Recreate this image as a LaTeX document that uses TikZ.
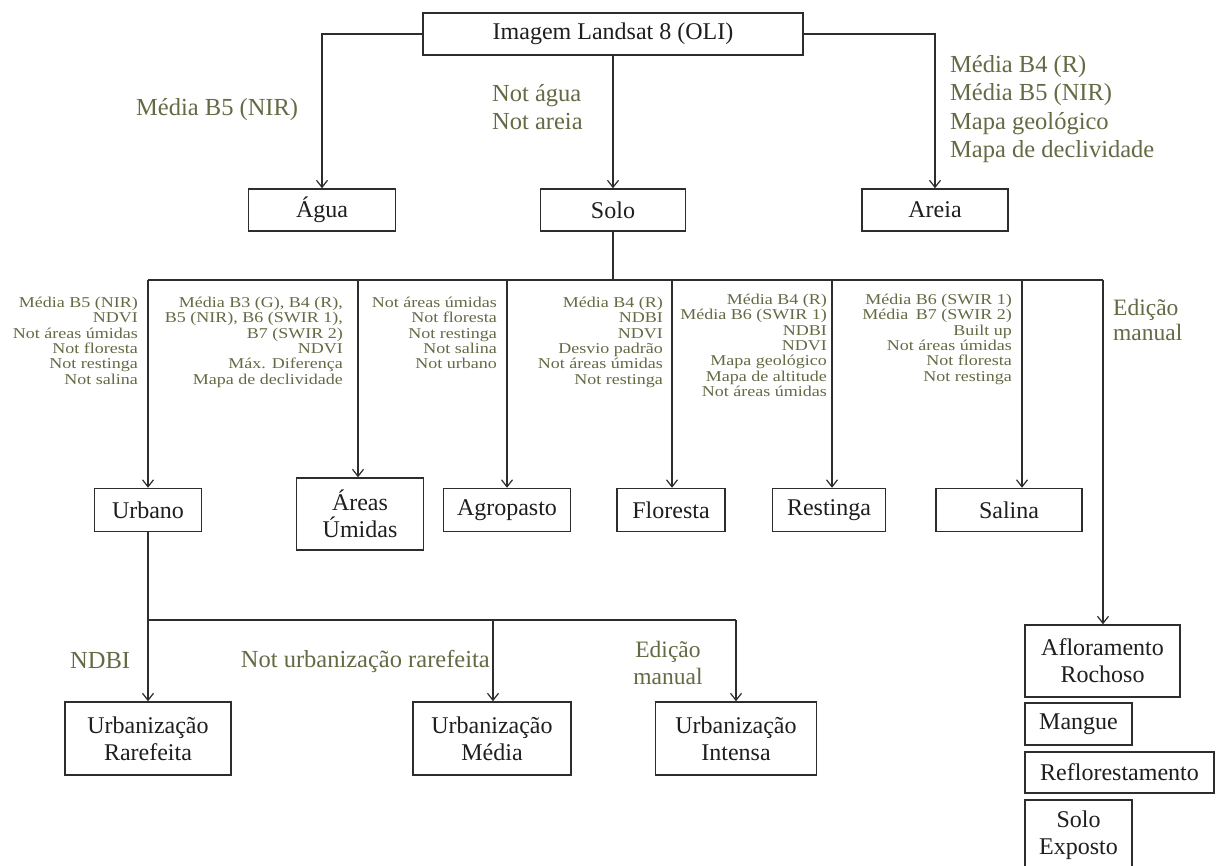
\documentclass[tikz,border=0pt]{standalone}
\usepackage{fontspec}
\setmainfont{Liberation Serif}
\newfontfamily\smallserif[FakeStretch=1.2]{Liberation Serif}
\usetikzlibrary{arrows.meta}
\definecolor{lab}{RGB}{100,106,68}
\definecolor{ln}{RGB}{45,45,45}
\definecolor{tx}{RGB}{30,30,30}
\tikzset{
  box/.style={draw=ln, line width=1.5pt, inner sep=0pt, align=center, text=tx,
    font=\fontsize{24}{27}\selectfont},
  conn/.style={draw=ln, line width=1.5pt},
  arr/.style={conn, -{Straight Barb[length=7pt,width=11pt,line width=1.2pt]}},
  biglab/.style={text=lab, inner sep=0pt, font=\fontsize{24.5}{28.5}\selectfont},
  smalllab/.style={text=lab, inner sep=0pt, align=right, anchor=north east,
    font=\smallserif\fontsize{15}{15.3}\selectfont},
}
\begin{document}
\begin{tikzpicture}[x=1pt,y=-1pt]
\useasboundingbox[fill=white] (0,0) rectangle (1216,866);

% top level
\node[box, minimum width=380, minimum height=42] (top) at (613,34) {Imagem Landsat 8 (OLI)};
\node[box, minimum width=147, minimum height=42] (agua) at (322,210) {Água};
\node[box, minimum width=145, minimum height=42] (solo) at (613,210) {Solo};
\node[box, minimum width=146, minimum height=42] (areia) at (935,210) {Areia};

\draw[arr] (top.west) -| (agua.north);
\draw[arr] (top.south) -- (solo.north);
\draw[arr] (top.east) -| (areia.north);

\node[biglab, anchor=west] (lagua) at (136,110) {Média B5 (NIR)};
\node[biglab, anchor=west, align=left] (lsolo) at (492,107) {Not água\\Not areia};
\node[biglab, anchor=west, align=left] (lareia) at (950,109) {Média B4 (R)\\Média B5 (NIR)\\Mapa geológico\\Mapa de declividade};

% second level
\node[box, minimum width=107, minimum height=43] (urbano) at (148,510) {Urbano};
\node[box, minimum width=127, minimum height=72] (areas) at (360,514) {Áreas\\Úmidas};
\node[box, minimum width=127, minimum height=43] (agro) at (507,510) {Agropasto};
\node[box, minimum width=108, minimum height=43] (flor) at (671,510) {Floresta};
\node[box, minimum width=113, minimum height=43] (rest) at (829,510) {Restinga};
\node[box, minimum width=146, minimum height=43] (sal) at (1009,510) {Salina};

\coordinate (bus) at (613,280);
\coordinate (bU) at (148,280);
\coordinate (bA) at (358,280);
\coordinate (bG) at (507,280);
\coordinate (bF) at (672,280);
\coordinate (bR) at (832,280);
\coordinate (bS) at (1022,280);
\coordinate (bE) at (1103,280);

\draw[conn] (solo.south) -- (bus);
\draw[conn] (bU) -- (bE);
\draw[arr] (bU) -- (bU |- urbano.north);
\draw[arr] (bA) -- (bA |- areas.north);
\draw[arr] (bG) -- (bG |- agro.north);
\draw[arr] (bF) -- (bF |- flor.north);
\draw[arr] (bR) -- (bR |- rest.north);
\draw[arr] (bS) -- (bS |- sal.north);

\node[smalllab] (g1) at (138,297) {Média B5 (NIR)\\NDVI\\Not áreas úmidas\\Not floresta\\Not restinga\\Not salina};
\node[smalllab] (g2) at (343,297) {Média B3 (G), B4 (R),\\B5 (NIR), B6 (SWIR 1),\\B7 (SWIR 2)\\NDVI\\Máx. Diferença\\Mapa de declividade};
\node[smalllab] (g3) at (497,297) {Not áreas úmidas\\Not floresta\\Not restinga\\Not salina\\Not urbano};
\node[smalllab] (g4) at (663,297) {Média B4 (R)\\NDBI\\NDVI\\Desvio padrão\\Not áreas úmidas\\Not restinga};
\node[smalllab] (g5) at (827,294) {Média B4 (R)\\Média B6 (SWIR 1)\\NDBI\\NDVI\\Mapa geológico\\Mapa de altitude\\Not áreas úmidas};
\node[smalllab] (g6) at (1012,294) {Média B6 (SWIR 1)\\Média\enspace B7 (SWIR 2)\\Built up\\Not áreas úmidas\\Not floresta\\Not restinga};
\node[biglab, anchor=west, align=left, font=\fontsize{23.5}{25}\selectfont] (g7) at (1113,320) {Edição\\manual};

% right column
\node[box, minimum width=155, minimum height=72] (aflor) at (1102.5,661) {Afloramento\\Rochoso};
\node[box, minimum width=107, minimum height=42] (mangue) at (1078.5,724) {Mangue};
\node[box, minimum width=189, minimum height=41] (reflor) at (1119.5,772.5) {Reflorestamento};
\node[box, minimum width=107, minimum height=70] (solex) at (1078.5,835) {Solo\\Exposto};
\draw[arr] (bE) -- (bE |- aflor.north);

% urban subdivision
\node[box, minimum width=166, minimum height=73] (rare) at (148,738.5) {Urbanização\\Rarefeita};
\node[box, minimum width=158, minimum height=73] (media) at (492,738.5) {Urbanização\\Média};
\node[box, minimum width=161, minimum height=73] (inten) at (736,738.5) {Urbanização\\Intensa};

\coordinate (sU) at (148,620);
\coordinate (sM) at (493,620);
\coordinate (sI) at (736,620);
\draw[conn] (urbano.south) -- (sU) -- (sI);
\draw[arr] (sU) -- (rare.north);
\draw[arr] (sM) -- (sM |- media.north);
\draw[arr] (sI) -- (inten.north);

\node[biglab, anchor=west] (lndbi) at (70,661) {NDBI};
\node[biglab, anchor=east] (lnot) at (490,661) {Not urbanização rarefeita};
\node[biglab, align=center, font=\fontsize{23.5}{27}\selectfont] (led) at (668,663) {Edição\\manual};
\end{tikzpicture}
\end{document}
